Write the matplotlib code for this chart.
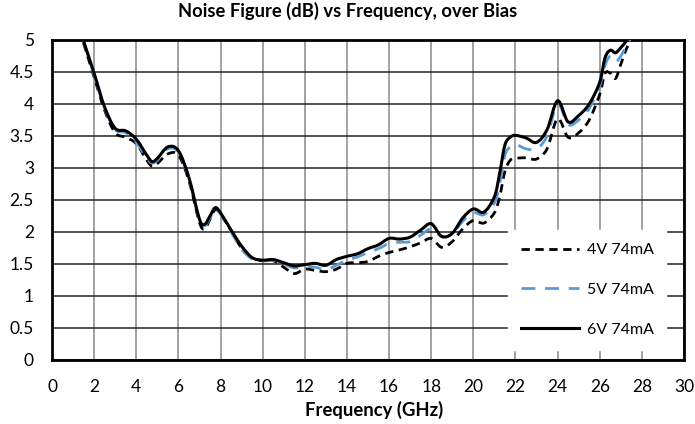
import matplotlib
matplotlib.use("Agg")
import matplotlib.pyplot as plt
import numpy as np
from matplotlib.path import Path
from matplotlib.patches import PathPatch
from matplotlib.lines import Line2D

freq = [1.5, 2.0, 2.5, 3.0, 3.5, 4.0, 4.5, 4.75, 5.0, 5.5, 6.0, 6.5, 7.0, 7.25, 7.5, 7.75,
        8.0, 8.5, 9.0, 9.5, 10.0, 10.5, 11.0, 11.5, 12.0, 12.5, 13.0, 13.5, 14.0, 14.5,
        15.0, 15.5, 16.0, 16.5, 17.0, 17.5, 18.0, 18.5, 19.0, 19.5, 20.0, 20.5, 21.0,
        21.25, 21.5, 21.75, 22.0, 22.5, 23.0, 23.5, 24.0, 24.5, 25.0, 25.5, 26.0, 26.25,
        26.5, 26.75, 27.0, 27.25, 27.5]

nf_6v = [4.98, 4.48, 3.95, 3.62, 3.58, 3.45, 3.20, 3.10, 3.15, 3.33, 3.27, 2.85, 2.20, 2.12,
         2.25, 2.38, 2.30, 2.03, 1.78, 1.60, 1.56, 1.57, 1.52, 1.47, 1.49, 1.51, 1.48, 1.57,
         1.62, 1.66, 1.74, 1.80, 1.90, 1.89, 1.92, 2.03, 2.13, 1.93, 1.98, 2.22, 2.36, 2.31,
         2.55, 2.92, 3.36, 3.48, 3.51, 3.47, 3.40, 3.60, 4.05, 3.72, 3.82, 4.00, 4.34, 4.72,
         4.84, 4.80, 4.88, 4.98, 5.10]

nf_5v = [4.98, 4.45, 3.93, 3.60, 3.55, 3.40, 3.15, 3.08, 3.12, 3.30, 3.25, 2.83, 2.18, 2.10,
         2.22, 2.36, 2.28, 2.00, 1.73, 1.58, 1.55, 1.55, 1.50, 1.44, 1.46, 1.45, 1.41, 1.48,
         1.56, 1.61, 1.68, 1.74, 1.82, 1.84, 1.85, 1.95, 2.05, 1.93, 1.97, 2.17, 2.30, 2.27,
         2.45, 2.75, 3.20, 3.33, 3.37, 3.30, 3.30, 3.50, 4.00, 3.68, 3.75, 3.93, 4.28, 4.60,
         4.75, 4.66, 4.75, 4.90, 5.05]

nf_4v = [4.95, 4.42, 3.90, 3.55, 3.48, 3.38, 3.12, 3.03, 3.07, 3.22, 3.20, 2.80, 2.15, 2.05,
         2.20, 2.35, 2.28, 2.02, 1.75, 1.60, 1.55, 1.55, 1.45, 1.35, 1.42, 1.40, 1.38, 1.42,
         1.51, 1.52, 1.54, 1.62, 1.68, 1.72, 1.77, 1.83, 1.90, 1.76, 1.85, 2.05, 2.18, 2.14,
         2.30, 2.55, 2.95, 3.12, 3.15, 3.16, 3.14, 3.30, 3.77, 3.48, 3.55, 3.75, 4.15, 4.48,
         4.48, 4.40, 4.62, 4.85, 5.02]

labels = ["4V 74mA", "5V 74mA", "6V 74mA"]
x_ticks = list(range(0, 31, 2))
y_ticks = [0, 0.5, 1, 1.5, 2, 2.5, 3, 3.5, 4, 4.5, 5]

plt.rcParams['font.family'] = ['Lato', 'DejaVu Sans']


def smooth_path(xs, ys):
    """Smoothed (Excel-like) line through the data points, as cubic Bezier segments."""
    P = np.column_stack([xs, ys]).astype(float)
    n = len(P)
    verts = [P[0]]
    codes = [Path.MOVETO]
    for i in range(n - 1):
        p0 = P[i - 1] if i > 0 else P[i]
        p1 = P[i]
        p2 = P[i + 1]
        p3 = P[i + 2] if i + 2 < n else P[i + 1]
        c1 = p1 + (p2 - p0) / 6.0
        c2 = p2 - (p3 - p1) / 6.0
        verts += [c1, c2, p2]
        codes += [Path.CURVE4] * 3
    return Path(verts, codes)


fig = plt.figure(figsize=(6.95, 4.24), dpi=100)
ax = fig.add_axes([52 / 695, 64 / 424, 632 / 695, 320 / 424])

styles = [
    dict(color="black", lw=2.0, ls=(0, (3, 2))),
    dict(color="#5B9BD5", lw=2.0, ls=(0, (5, 3.5))),
    dict(color="black", lw=2.2, ls="-"),
]
handles = []
for z, (vals, st, lab) in enumerate(zip([nf_4v, nf_5v, nf_6v], styles, labels)):
    patch = PathPatch(smooth_path(freq, vals), fill=False, edgecolor=st["color"],
                      linewidth=st["lw"], linestyle=st["ls"], zorder=3 + z,
                      capstyle="butt", joinstyle="round")
    ax.add_patch(patch)
    handles.append(Line2D([0], [1], color=st["color"], lw=st["lw"], linestyle=st["ls"], label=lab))

ax.set_xlim(0, 30)
ax.set_ylim(0, 5)
ax.set_xticks(x_ticks)
ax.set_yticks(y_ticks)
ax.set_yticklabels([f"{v:g}" for v in y_ticks])
ax.tick_params(length=0, labelsize=12.5)
ax.tick_params(axis="x", pad=14)
ax.tick_params(axis="y", pad=13)

ax.xaxis.grid(True, color="#9a9a9a", lw=1.3, zorder=0)
ax.yaxis.grid(True, color="#222222", lw=1.1, zorder=0)
ax.set_axisbelow(True)
for s in ax.spines.values():
    s.set_color("black")
    s.set_linewidth(2.0)

fig.text(0.5, 1 - 11 / 424, "Noise Figure (dB) vs Frequency, over Bias", fontsize=13.2,
         fontweight="bold", ha="center", va="center")
ax.set_xlabel("Frequency (GHz)", fontsize=13.3, fontweight="bold")
ax.xaxis.set_label_coords(0.51, -0.128)

leg = ax.legend(handles=handles, loc="center", bbox_to_anchor=(0.847, 0.219), frameon=True,
                fancybox=False, edgecolor="white", framealpha=1.0, fontsize=11.5,
                labelspacing=1.6, handlelength=3.6, handletextpad=0.5, borderpad=0.8)
leg.set_zorder(10)

fig.savefig("out.png", dpi=100)
